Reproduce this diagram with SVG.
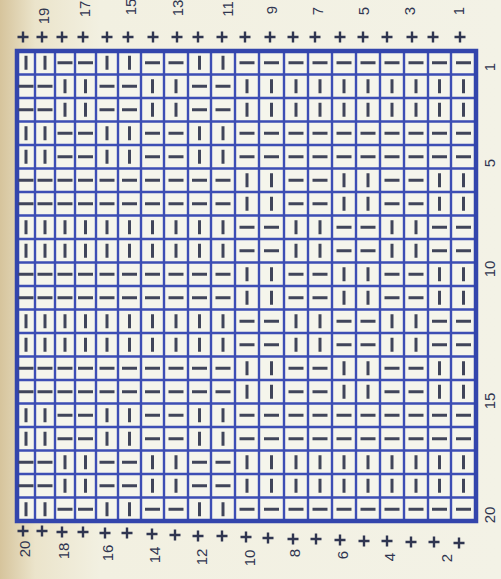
<svg xmlns="http://www.w3.org/2000/svg" xmlns:xlink="http://www.w3.org/1999/xlink" width="501" height="579" viewBox="0 0 501 579">
<style>
.sym{stroke:#40455a;stroke-width:3;stroke-linecap:butt;fill:none}
.grid{stroke:#3d4eb4;stroke-width:2.4;fill:none}
.border{stroke:#3345ac;stroke-width:4.5;fill:none}
.plus{stroke:#2f3550;stroke-width:2.4;fill:none}
.lbl{font-family:"Liberation Sans",Arial,sans-serif;font-size:15px;fill:#2f3550;text-anchor:middle;dominant-baseline:central}
</style>
<defs>
<linearGradient id="paper" x1="0" y1="0" x2="1" y2="0">
<stop offset="0" stop-color="#d6c49c"/>
<stop offset="0.07" stop-color="#ebe4cb"/>
<stop offset="0.2" stop-color="#f2f0e1"/>
<stop offset="1" stop-color="#f3f2e6"/>
</linearGradient>
<path id="v" class="sym" d="M0,-7V7"/>
<path id="h" class="sym" d="M-7.5,0H7.5"/>
<path id="p" class="plus" d="M-5.5,0H5.5M0,-5.5V5.5"/>
<g id="LA"><use href="#v" x="26"/><use href="#v" x="45"/><use href="#h" x="65"/><use href="#h" x="85.5"/><use href="#v" x="107"/><use href="#v" x="129.5"/><use href="#h" x="152.5"/><use href="#h" x="176"/><use href="#v" x="199.5"/><use href="#v" x="223"/></g>
<g id="LB"><use href="#h" x="26"/><use href="#h" x="45"/><use href="#v" x="65"/><use href="#v" x="85.5"/><use href="#h" x="107"/><use href="#h" x="129.5"/><use href="#v" x="152.5"/><use href="#v" x="176"/><use href="#h" x="199.5"/><use href="#h" x="223"/></g>
<g id="LH"><use href="#h" x="26"/><use href="#h" x="45"/><use href="#h" x="65"/><use href="#h" x="85.5"/><use href="#h" x="107"/><use href="#h" x="129.5"/><use href="#h" x="152.5"/><use href="#h" x="176"/><use href="#h" x="199.5"/><use href="#h" x="223"/></g>
<g id="LV"><use href="#v" x="26"/><use href="#v" x="45"/><use href="#v" x="65"/><use href="#v" x="85.5"/><use href="#v" x="107"/><use href="#v" x="129.5"/><use href="#v" x="152.5"/><use href="#v" x="176"/><use href="#v" x="199.5"/><use href="#v" x="223"/></g>
<g id="RA"><use href="#v" x="247"/><use href="#v" x="271.5"/><use href="#h" x="296"/><use href="#h" x="320"/><use href="#v" x="344"/><use href="#v" x="368"/><use href="#h" x="392"/><use href="#h" x="416"/><use href="#v" x="439.5"/><use href="#v" x="463.5"/></g>
<g id="RB"><use href="#h" x="247"/><use href="#h" x="271.5"/><use href="#v" x="296"/><use href="#v" x="320"/><use href="#h" x="344"/><use href="#h" x="368"/><use href="#v" x="392"/><use href="#v" x="416"/><use href="#h" x="439.5"/><use href="#h" x="463.5"/></g>
<g id="RH"><use href="#h" x="247"/><use href="#h" x="271.5"/><use href="#h" x="296"/><use href="#h" x="320"/><use href="#h" x="344"/><use href="#h" x="368"/><use href="#h" x="392"/><use href="#h" x="416"/><use href="#h" x="439.5"/><use href="#h" x="463.5"/></g>
<g id="RV"><use href="#v" x="247"/><use href="#v" x="271.5"/><use href="#v" x="296"/><use href="#v" x="320"/><use href="#v" x="344"/><use href="#v" x="368"/><use href="#v" x="392"/><use href="#v" x="416"/><use href="#v" x="439.5"/><use href="#v" x="463.5"/></g>
</defs>
<rect width="501" height="579" fill="url(#paper)"/>
<rect x="17" y="51" width="459" height="470" fill="#f5f5ec"/>
<g id="grid">
<path class="grid" d="M35,51V521M55,51V521M75,51V521M96,51V521M118,51V521M141,51V521M164,51V521M188,51V521M211,51V521M235,51V521M259,51V521M284,51V521M308,51V521M332,51V521M356,51V521M380,51V521M404,51V521M428,51V521M451,51V521"/>
<path class="grid" d="M17,74.5H476M17,98H476M17,121.5H476M17,145H476M17,168.5H476M17,192H476M17,215.5H476M17,239H476M17,262.5H476M17,286H476M17,309.5H476M17,333H476M17,356.5H476M17,380H476M17,403.5H476M17,427H476M17,450.5H476M17,474H476M17,497.5H476"/>
<rect class="border" x="17" y="51" width="459" height="470"/>
</g>
<g id="cells">
<use href="#LA" y="62.75"/><use href="#RH" y="62.75"/>
<use href="#LB" y="86.25"/><use href="#RV" y="86.25"/>
<use href="#LB" y="109.75"/><use href="#RV" y="109.75"/>
<use href="#LA" y="133.25"/><use href="#RH" y="133.25"/>
<use href="#LA" y="156.75"/><use href="#RH" y="156.75"/>
<use href="#LH" y="180.25"/><use href="#RA" y="180.25"/>
<use href="#LH" y="203.75"/><use href="#RA" y="203.75"/>
<use href="#LV" y="227.25"/><use href="#RB" y="227.25"/>
<use href="#LV" y="250.75"/><use href="#RB" y="250.75"/>
<use href="#LH" y="274.25"/><use href="#RA" y="274.25"/>
<use href="#LH" y="297.75"/><use href="#RA" y="297.75"/>
<use href="#LV" y="321.25"/><use href="#RB" y="321.25"/>
<use href="#LV" y="344.75"/><use href="#RB" y="344.75"/>
<use href="#LH" y="368.25"/><use href="#RA" y="368.25"/>
<use href="#LH" y="391.75"/><use href="#RA" y="391.75"/>
<use href="#LA" y="415.25"/><use href="#RH" y="415.25"/>
<use href="#LA" y="438.75"/><use href="#RH" y="438.75"/>
<use href="#LB" y="462.25"/><use href="#RV" y="462.25"/>
<use href="#LB" y="485.75"/><use href="#RV" y="485.75"/>
<use href="#LA" y="509.25"/><use href="#RH" y="509.25"/>
</g>
<g id="top-marks">
<use href="#p" x="23" y="37"/><use href="#p" x="42" y="37"/><use href="#p" x="62" y="37"/><use href="#p" x="83" y="37"/><use href="#p" x="107" y="37"/><use href="#p" x="128" y="37"/><use href="#p" x="153" y="37"/><use href="#p" x="177" y="37"/><use href="#p" x="198" y="37"/><use href="#p" x="222" y="37"/><use href="#p" x="245" y="37"/><use href="#p" x="270" y="37"/><use href="#p" x="293" y="37"/><use href="#p" x="315" y="37"/><use href="#p" x="340" y="37"/><use href="#p" x="363" y="37"/><use href="#p" x="387" y="37"/><use href="#p" x="412" y="37"/><use href="#p" x="433" y="37"/><use href="#p" x="460" y="37"/>
</g>
<g id="top-labels">
<text class="lbl" transform="translate(43,16) rotate(-90)">19</text>
<text class="lbl" transform="translate(84,9) rotate(-90)">17</text>
<text class="lbl" transform="translate(130,7) rotate(-90)">15</text>
<text class="lbl" transform="translate(177,8) rotate(-90)">13</text>
<text class="lbl" transform="translate(227,9) rotate(-90)">11</text>
<text class="lbl" transform="translate(271,10) rotate(-90)">9</text>
<text class="lbl" transform="translate(317,11) rotate(-90)">7</text>
<text class="lbl" transform="translate(363,11) rotate(-90)">5</text>
<text class="lbl" transform="translate(409,11) rotate(-90)">3</text>
<text class="lbl" transform="translate(458,11) rotate(-90)">1</text>
</g>
<g id="bottom-marks">
<use href="#p" x="23" y="531"/><use href="#p" x="42" y="531"/><use href="#p" x="62" y="532"/><use href="#p" x="83" y="532"/><use href="#p" x="105" y="533"/><use href="#p" x="127" y="533"/><use href="#p" x="152" y="534"/><use href="#p" x="175" y="535"/><use href="#p" x="198" y="536"/><use href="#p" x="222" y="536"/><use href="#p" x="246" y="537"/><use href="#p" x="268" y="538"/><use href="#p" x="293" y="539"/><use href="#p" x="316" y="539"/><use href="#p" x="340" y="540"/><use href="#p" x="364" y="541"/><use href="#p" x="387" y="541"/><use href="#p" x="411" y="542"/><use href="#p" x="434" y="542"/><use href="#p" x="459" y="543"/>
</g>
<g id="bottom-labels">
<text class="lbl" transform="translate(24,549) rotate(-90)">20</text>
<text class="lbl" transform="translate(63,551) rotate(-90)">18</text>
<text class="lbl" transform="translate(107,553) rotate(-90)">16</text>
<text class="lbl" transform="translate(154,555) rotate(-90)">14</text>
<text class="lbl" transform="translate(201,557) rotate(-90)">12</text>
<text class="lbl" transform="translate(249,558) rotate(-90)">10</text>
<text class="lbl" transform="translate(294,553) rotate(-90)">8</text>
<text class="lbl" transform="translate(342,555) rotate(-90)">6</text>
<text class="lbl" transform="translate(389,557) rotate(-90)">4</text>
<text class="lbl" transform="translate(446,558) rotate(-90)">2</text>
</g>
<g id="right-labels">
<text class="lbl" transform="translate(489,67) rotate(-90)">1</text>
<text class="lbl" transform="translate(489,163) rotate(-90)">5</text>
<text class="lbl" transform="translate(489,269) rotate(-90)">10</text>
<text class="lbl" transform="translate(489,401) rotate(-90)">15</text>
<text class="lbl" transform="translate(489,515) rotate(-90)">20</text>
</g>
</svg>
